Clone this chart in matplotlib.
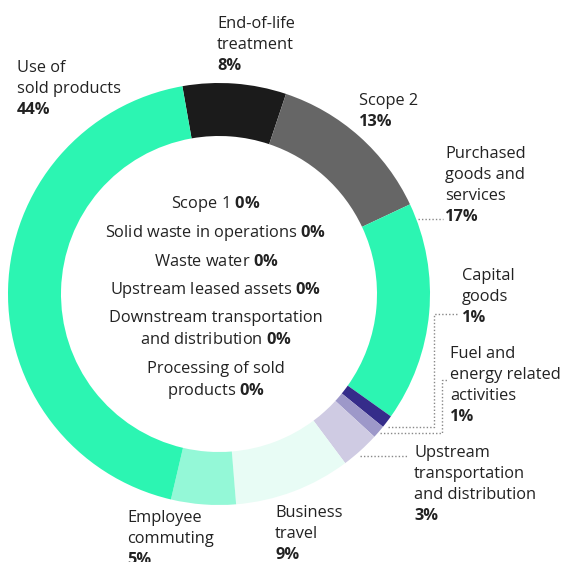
import matplotlib.pyplot as plt

plt.rcParams['font.family'] = 'Open Sans'
plt.rcParams['mathtext.fontset'] = 'custom'
plt.rcParams['mathtext.rm'] = 'Open Sans'
plt.rcParams['mathtext.bf'] = 'Open Sans:bold'

# emission categories, clockwise from the top
categories = ['End-of-life\ntreatment', 'Scope 2', 'Purchased\ngoods and\nservices',
              'Capital\ngoods', 'Fuel and\nenergy related\nactivities',
              'Upstream\ntransportation\nand distribution', 'Business\ntravel',
              'Employee\ncommuting', 'Use of\nsold products']
shares = [8, 13, 17, 1, 1, 3, 9, 5, 44]
colors = ['#1b1b1b', '#666666', '#2cf5b2', '#352c8a', '#9d98c9',
          '#cfcbe3', '#e8fcf5', '#94f8d7', '#2cf5b2']

# categories with no share, listed in the hole
zero_labels = ['Scope 1', 'Solid waste in operations', 'Waste water',
               'Upstream leased assets', 'Downstream transportation\nand distribution',
               'Processing of sold\nproducts']
zero_shares = [0, 0, 0, 0, 0, 0]

W, H = 566, 562
fig = plt.figure(figsize=(W / 100, H / 100), dpi=100)
ax = fig.add_axes([0, 0, 1, 1])


def Y(py):
    return H - py


ax.pie(shares, colors=colors, startangle=100, counterclock=False,
       radius=211, center=(219, Y(294)),
       wedgeprops=dict(width=53, linewidth=0))
ax.set_xlim(0, W)
ax.set_ylim(0, H)
ax.set_aspect('equal')
ax.axis('off')

TXT = '#222222'
FS = 11.8

# outside labels: x, first baseline
label_pos = [(217, 28), (359, 105), (445, 158), (462, 280), (450, 358),
             (414, 457), (275, 517), (127, 522), (17, 72)]
for name, share, (x, y0) in zip(categories, shares, label_pos):
    lines = name.split('\n')
    for i, line in enumerate(lines):
        ax.text(x, Y(y0 + 21 * i), line, fontsize=FS, color=TXT, va='baseline', ha='left')
    ax.text(x, Y(y0 + 21 * len(lines)), f'{share}%', fontsize=FS, color=TXT,
            fontweight='bold', va='baseline', ha='left')

# dotted leader lines for the small slices
dot = dict(color='#888888', linestyle=(0, (1, 1.5)), linewidth=1)
ax.plot([418, 443], [Y(219), Y(219)], **dot)
ax.plot([388, 434, 434, 459], [Y(427), Y(427), Y(314), Y(314)], **dot)
ax.plot([380, 442, 442, 448], [Y(433), Y(433), Y(380), Y(380)], **dot)
ax.plot([360, 408], [Y(456), Y(456)], **dot)

# zero-share categories in the middle of the ring
baselines = [208, 237, 266, 294, 322, 373]
for name, share, yb in zip(zero_labels, zero_shares, baselines):
    lines = name.split('\n')
    lines[-1] = lines[-1] + r' $\mathbf{' + str(share) + r'\%}$'
    for i, line in enumerate(lines):
        ax.text(216, Y(yb + 22 * i), line, fontsize=FS, color=TXT, va='baseline', ha='center')

fig.savefig('out.png', dpi=100)
